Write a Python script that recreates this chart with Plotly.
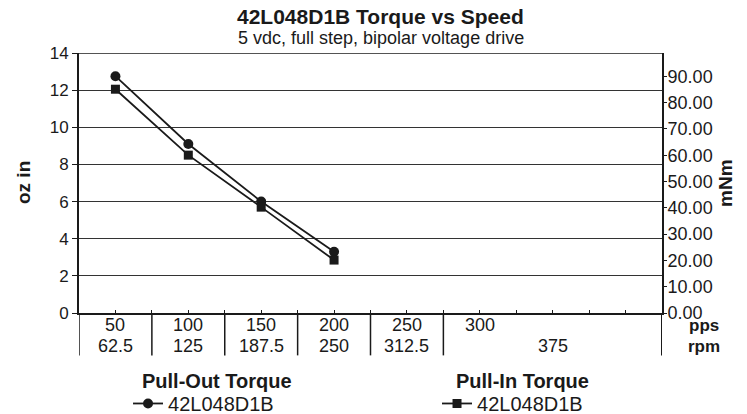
import plotly.graph_objects as go

# ---- data ----
speed_pps = [50, 100, 150, 200]
pull_out_ozin = [12.75, 9.1, 6.0, 3.3]
pull_in_ozin = [12.05, 8.5, 5.7, 2.85]

pps_ticks = [50, 100, 150, 200, 250, 300]
pps_labels = ["50", "100", "150", "200", "250", "300"]
rpm_labels = ["62.5", "125", "187.5", "250", "312.5", "375"]
slot_last = 400           # last (empty) speed slot on the axis
slot_step = 50
y_ticks = [0, 2, 4, 6, 8, 10, 12, 14]
mnm_ticks = [0, 10, 20, 30, 40, 50, 60, 70, 80, 90]
OZIN_TO_MNM = 7.0616

FONT = "Liberation Sans, Arial, sans-serif"
INK = "#1a1a1a"

half = slot_step / 2
x_range = [pps_ticks[0] - half, slot_last + half]
y_max = y_ticks[-1]

fig = go.Figure()
fig.add_trace(go.Scatter(
    x=speed_pps, y=pull_out_ozin, mode="lines+markers", name="42L048D1B",
    line=dict(color=INK, width=1.8), marker=dict(symbol="circle", size=10, color=INK),
    legend="legend"))
fig.add_trace(go.Scatter(
    x=speed_pps, y=pull_in_ozin, mode="lines+markers", name="42L048D1B",
    line=dict(color=INK, width=1.8), marker=dict(symbol="square", size=9, color=INK),
    legend="legend2"))
# invisible trace to activate the right axis
fig.add_trace(go.Scatter(x=[speed_pps[0]], y=[0], yaxis="y2", mode="markers",
                         marker=dict(opacity=0), showlegend=False, hoverinfo="skip"))

shapes = []
# separators below the axis at slot boundaries (cells of the label table)
bounds = [p - half for p in pps_ticks]
for b in bounds + [x_range[1]]:
    shapes.append(dict(type="line", xref="x", yref="paper", x0=b, x1=b, y0=0, y1=-0.163,
                       line=dict(color=INK, width=1.5 if b != x_range[1] else 2)))
# top border
shapes.append(dict(type="line", xref="paper", yref="y", x0=0, x1=1, y0=y_max, y1=y_max,
                   line=dict(color=INK, width=1.5)))


def txt(text, x, y, size, xref="paper", angle=0):
    return dict(text=text, xref=xref, yref="paper", x=x, y=y, xanchor="center",
                yanchor="middle", showarrow=False, textangle=angle,
                font=dict(size=size, color=INK, family=FONT))


annotations = [
    txt("<b>42L048D1B Torque vs Speed</b>", 0.518, 1.1385, 21),
    txt("5 vdc, full step, bipolar voltage drive", 0.518, 1.0577, 18),
    txt("<b>oz in</b>", -0.096, 0.5, 19, angle=-90),
    txt("<b>mNm</b>", 1.108, 0.5, 19, angle=-90),
    txt("<b>pps</b>", 1.072, -0.048, 17),
    txt("<b>rpm</b>", 1.072, -0.127, 17),
    txt("<b>Pull-Out Torque</b>", 0.236, -0.260, 20),
    txt("<b>Pull-In Torque</b>", 0.760, -0.260, 20),
]
# pps row and rpm row; the last rpm cell spans to the end of the axis
for i, (p, lab, r) in enumerate(zip(pps_ticks, pps_labels, rpm_labels)):
    annotations.append(txt(lab, p, -0.048, 18, xref="x"))
    xc = (p - half + x_range[1]) / 2 if i == len(pps_ticks) - 1 else p
    annotations.append(txt(r, xc, -0.127, 18, xref="x"))

fig.update_layout(
    width=747, height=414,
    margin=dict(l=79, r=85, t=53, b=101, autoexpand=False),
    paper_bgcolor="white", plot_bgcolor="white",
    font=dict(family=FONT, color=INK, size=17),
    xaxis=dict(range=x_range, tickvals=pps_ticks, showticklabels=False,
               ticks="inside", ticklen=3, tickcolor=INK, showgrid=False, zeroline=False,
               showline=True, linecolor=INK, linewidth=2,
               minor=dict(ticks="inside", dtick=half, tick0=x_range[0], ticklen=3,
                          tickcolor=INK, showgrid=False)),
    yaxis=dict(range=[0, y_max], tickvals=y_ticks, ticks="outside", ticklen=5, tickcolor=INK,
               showgrid=True, gridcolor="#333333", gridwidth=1, zeroline=False,
               showline=True, linecolor=INK, linewidth=2, tickfont=dict(size=17)),
    yaxis2=dict(range=[0, y_max * OZIN_TO_MNM], tickvals=mnm_ticks, tickformat=".2f",
                overlaying="y", side="right", ticks="outside", ticklen=3, tickcolor=INK,
                ticklabelstandoff=-3,
                showgrid=False, zeroline=False, showline=True, linecolor=INK, linewidth=2,
                tickfont=dict(size=18)),
    legend=dict(orientation="h", x=0.2136, xanchor="center", y=-0.273, yanchor="top",
                font=dict(size=20), itemwidth=30, bgcolor="rgba(0,0,0,0)"),
    legend2=dict(orientation="h", x=0.7436, xanchor="center", y=-0.273, yanchor="top",
                 font=dict(size=20), itemwidth=30, bgcolor="rgba(0,0,0,0)"),
    shapes=shapes, annotations=annotations, showlegend=True,
)
fig.write_html("out.html", config={"displayModeBar": False},
               post_script="document.body.style.margin='0';")
